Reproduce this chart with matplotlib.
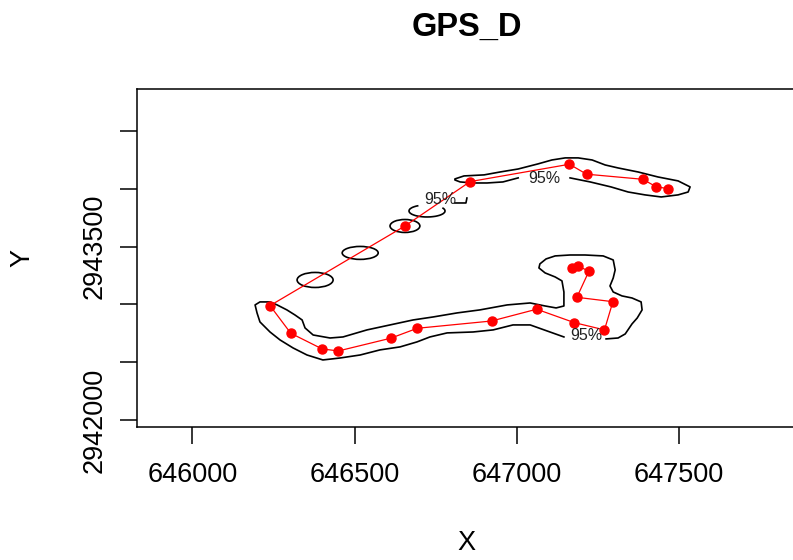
import matplotlib
matplotlib.use("Agg")
import matplotlib.pyplot as plt
from matplotlib.patches import Ellipse, Arc

plt.rcParams["font.family"] = ["Liberation Sans", "DejaVu Sans"]

# GPS fixes, in track order
track_x = [647465, 647429, 647388, 647215, 647162, 646856, 646655, 646239, 646303, 646400, 646450,
           646611, 646693, 646922, 647061, 647177, 647270, 647296, 647185, 647222, 647189, 647171]
track_y = [2944001, 2944018, 2944082, 2944126, 2944212, 2944062, 2943678, 2942989, 2942750, 2942614, 2942597,
           2942707, 2942793, 2942856, 2942958, 2942842, 2942779, 2943023, 2943061, 2943286, 2943332, 2943315]

# 95% kernel contour, northern arm (open where the label sits)
north_x = [647164, 647226, 647290, 647343, 647395, 647445, 647497, 647528, 647534, 647497, 647435, 647374,
           647312, 647272, 647232, 647189, 647149, 647108, 647065, 647004, 646948, 646899, 646837, 646809,
           646809, 646825, 646865, 646908, 646957, 647004]
north_y = [2944094, 2944059, 2944016, 2943972, 2943947, 2943929, 2943947, 2943972, 2944016, 2944068, 2944102, 2944145,
           2944180, 2944206, 2944249, 2944267, 2944267, 2944249, 2944215, 2944171, 2944145, 2944120, 2944111, 2944085,
           2944076, 2944059, 2944050, 2944050, 2944059, 2944094]

# 95% kernel contour, southern band + loop
south_x = [647275, 647312, 647334, 647355, 647371, 647386, 647383, 647355, 647324, 647297, 647287, 647297,
           647303, 647297, 647266, 647210, 647164, 647118, 647090, 647071, 647068, 647087, 647118, 647139,
           647145, 647145, 647121, 647087, 647041, 646970, 646886, 646816, 646742, 646680, 646609, 646538,
           646464, 646424, 646372, 646347, 646338, 646316, 646291, 646261, 646239, 646208, 646193, 646199,
           646208, 646239, 646270, 646310, 646353, 646402, 646455, 646517, 646578, 646640, 646692, 646732,
           646785, 646865, 646927, 646988, 647041, 647093, 647145]
south_y = [2942701, 2942709, 2942744, 2942831, 2942882, 2942952, 2943021, 2943055, 2943073, 2943107, 2943159, 2943228,
           2943298, 2943384, 2943419, 2943427, 2943427, 2943419, 2943393, 2943350, 2943315, 2943272, 2943237, 2943203,
           2943107, 2942986, 2942969, 2942986, 2943012, 2942995, 2942952, 2942926, 2942891, 2942865, 2942822, 2942779,
           2942718, 2942709, 2942735, 2942796, 2942865, 2942908, 2942952, 2942995, 2943021, 2943021, 2942995, 2942926,
           2942848, 2942761, 2942692, 2942623, 2942562, 2942519, 2942536, 2942562, 2942606, 2942632, 2942675, 2942718,
           2942753, 2942761, 2942779, 2942822, 2942822, 2942770, 2942718]

# small contour rings along the transit leg: centre x, centre y, width, height
ring_cx = [646378, 646517, 646655]
ring_cy = [2943211, 2943445, 2943678]
ring_w = [111, 111, 92]
ring_h = [130, 112, 112]
# ring broken by a label
arc_c = (646723, 2943808); arc_w, arc_h = 111, 104
tail_x = [646809, 646843, 646846]
tail_y = [2943877, 2943877, 2943920]

lab_x = [647084, 646763, 647213]
lab_y = [2944085, 2943903, 2942727]

W, H = 793, 560
fig = plt.figure(figsize=(W/100, H/100), dpi=100)
ax = fig.add_axes([137/W, 1-427/H, (796.5-137)/W, (427-89)/H])

ax.plot(north_x, north_y, color="black", lw=1.2)
ax.plot(south_x, south_y, color="black", lw=1.2)
ax.plot(tail_x, tail_y, color="black", lw=1.2)
for cx, cy, w, h in zip(ring_cx, ring_cy, ring_w, ring_h):
    ax.add_patch(Ellipse((cx, cy), w, h, fill=False, ec="black", lw=1.2))
ax.add_patch(Arc(arc_c, arc_w, arc_h, theta1=120, theta2=390, ec="black", lw=1.2))
for x, y in zip(lab_x, lab_y):
    ax.text(x, y, "95%", ha="center", va="center", fontsize=11.5, color="#222222")

ax.plot(track_x, track_y, color="red", lw=0.9, marker="o", ms=6.5, mec="red", mfc="red")

ax.set_xlim(645829, 647862)
ax.set_ylim(2941939, 2944863)
ax.set_xticks([646000, 646500, 647000, 647500])
ax.set_xticklabels(["646000", "646500", "647000", "647500"])
ax.set_yticks([2942000, 2942500, 2943000, 2943500, 2944000, 2944500])
ax.set_yticklabels(["2942000", "", "", "2943500", "", ""], rotation=90, va="center")
ax.tick_params(axis="both", direction="out", length=12, width=1.1, labelsize=19.5, color="black")
ax.tick_params(axis="x", pad=13)
ax.tick_params(axis="y", pad=9)
for sp in ax.spines.values(): sp.set_linewidth(1.1)

fig.text(466.7/W, 1-27/H, "GPS_D", ha="center", va="center", fontsize=23.5, fontweight="bold")
fig.text(466.7/W, 1-543.5/H, "X", ha="center", va="center", fontsize=19.5)
fig.text(22.3/W, 1-258/H, "Y", ha="center", va="center", fontsize=19.5, rotation=90)

fig.savefig("out.png", dpi=100)
